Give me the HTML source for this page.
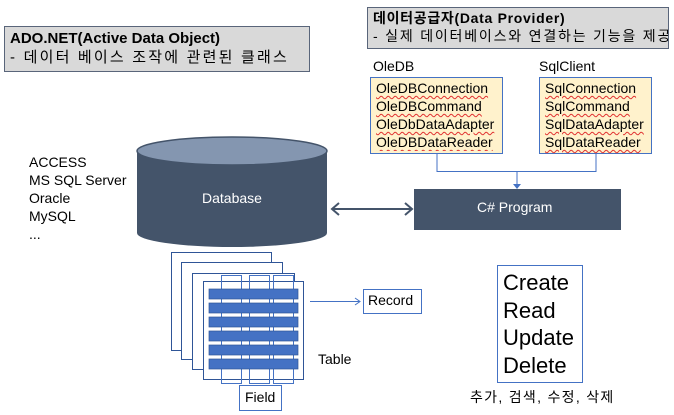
<!DOCTYPE html>
<html><head><meta charset="utf-8"><style>
body{margin:0;width:674px;height:415px;background:#fff;overflow:hidden;position:relative;font-family:"Liberation Sans","Noto Sans CJK KR",sans-serif;}
.a{position:absolute;white-space:nowrap;}
.sq{text-decoration:underline wavy #e03030;text-decoration-thickness:1px;text-underline-offset:2px;}
</style></head><body>
<svg width="674" height="415" style="position:absolute;left:0;top:0">
<rect x="4.5" y="26.5" width="305" height="45" fill="#d9d9d9" stroke="#59657a"/>
<rect x="367.5" y="7.5" width="301" height="41" fill="#d9d9d9" stroke="#59657a"/>
<rect x="370.5" y="77.5" width="132" height="76" fill="#fff2cc" stroke="#4472c4"/>
<rect x="539.5" y="77.5" width="112" height="76" fill="#fff2cc" stroke="#4472c4"/>
<path d="M437 153V171.5H596V153M517 171V186" stroke="#4472c4" fill="none"/>
<path d="M513 184L517 189L521 184Z" fill="#4472c4"/>
<path d="M137 151V233A95 14 0 0 0 327 233V151Z" fill="#44546a"/>
<ellipse cx="232" cy="151" rx="95" ry="14" fill="#8496b0" stroke="#44546a" stroke-width="1.5"/>
<rect x="414" y="189" width="207" height="41" fill="#44546a"/>
<path d="M333 209H411M339 203L332 209L339 215M405 203L412 209L405 215" stroke="#44546a" stroke-width="2" fill="none"/>
<g fill="#fff" stroke="#2f5597" stroke-width="1">
<rect x="171.5" y="252.5" width="100" height="98"/>
<rect x="181.5" y="262.5" width="101" height="97"/>
<rect x="192.5" y="273.5" width="102" height="96"/>
<rect x="203.5" y="281.5" width="100" height="98"/>
</g>
<g fill="none" stroke="#4472c4">
<rect x="221.5" y="275.5" width="20" height="108"/>
<rect x="249.5" y="275.5" width="20" height="108"/>
<rect x="273.5" y="275.5" width="20" height="108"/>
</g>
<g fill="#4472c4" stroke="#2f5597" stroke-width="0.7">
<rect x="209" y="289" width="89" height="10"/><rect x="209" y="303" width="89" height="10"/>
<rect x="209" y="317" width="89" height="10"/><rect x="209" y="331" width="89" height="10"/>
<rect x="209" y="345" width="89" height="10"/><rect x="209" y="359" width="89" height="10"/>
</g>
<path d="M310 301.5H359M355 298L360 301.5L355 305" stroke="#4472c4" fill="none"/>
<rect x="363.5" y="289.5" width="58" height="24" fill="#fff" stroke="#4472c4"/>
<rect x="239.5" y="385.5" width="42" height="25" fill="#fff" stroke="#4472c4"/>
<rect x="497.5" y="265.5" width="85" height="117" fill="#fff" stroke="#4472c4"/>
</svg>
<div class="a" style="left:10px;top:29px;font-size:15px;font-weight:bold;line-height:19px">ADO.NET(Active Data Object)</div>
<div class="a" style="left:10px;top:48px;font-size:15px;line-height:19px;letter-spacing:2.2px">- 데이터 베이스 조작에 관련된 클래스</div>
<div class="a" style="left:373px;top:9px;font-size:14px;font-weight:bold;line-height:18px;letter-spacing:0.7px">데이터공급자(Data Provider)</div>
<div class="a" style="left:373px;top:27px;font-size:14px;line-height:18px;width:295px;overflow:hidden;letter-spacing:1.8px">- 실제 데이터베이스와 연결하는 기능을 제공</div>
<div class="a" style="left:373px;top:58px;font-size:14px">OleDB</div>
<div class="a" style="left:539px;top:58px;font-size:14px">SqlClient</div>
<div class="a" style="left:376px;top:79px;font-size:14px;line-height:18px;width:126px;overflow:hidden"><span class="sq">OleDBConnection</span><br><span class="sq">OleDBCommand</span><br><span class="sq">OleDbDataAdapter</span><br><span class="sq">OleDBDataReader</span></div>
<div class="a" style="left:545px;top:79px;font-size:14px;line-height:18px"><span class="sq">SqlConnection</span><br><span class="sq">SqlCommand</span><br><span class="sq">SqlDataAdapter</span><br><span class="sq">SqlDataReader</span></div>
<div class="a" style="left:29px;top:153px;font-size:14px;line-height:18px">ACCESS<br>MS SQL Server<br>Oracle<br>MySQL<br>...</div>
<div class="a" style="left:202px;top:190px;font-size:14px;color:#fff">Database</div>
<div class="a" style="left:477px;top:199px;font-size:14px;color:#fff">C# Program</div>
<div class="a" style="left:368px;top:292px;font-size:14px">Record</div>
<div class="a" style="left:318px;top:351px;font-size:14px">Table</div>
<div class="a" style="left:245px;top:389px;font-size:14px">Field</div>
<div class="a" style="left:503px;top:269px;font-size:22px;line-height:27.5px">Create<br>Read<br>Update<br>Delete</div>
<div class="a" style="left:470px;top:387px;font-size:14px;letter-spacing:1.3px">추가, 검색, 수정, 삭제</div>
</body></html>
